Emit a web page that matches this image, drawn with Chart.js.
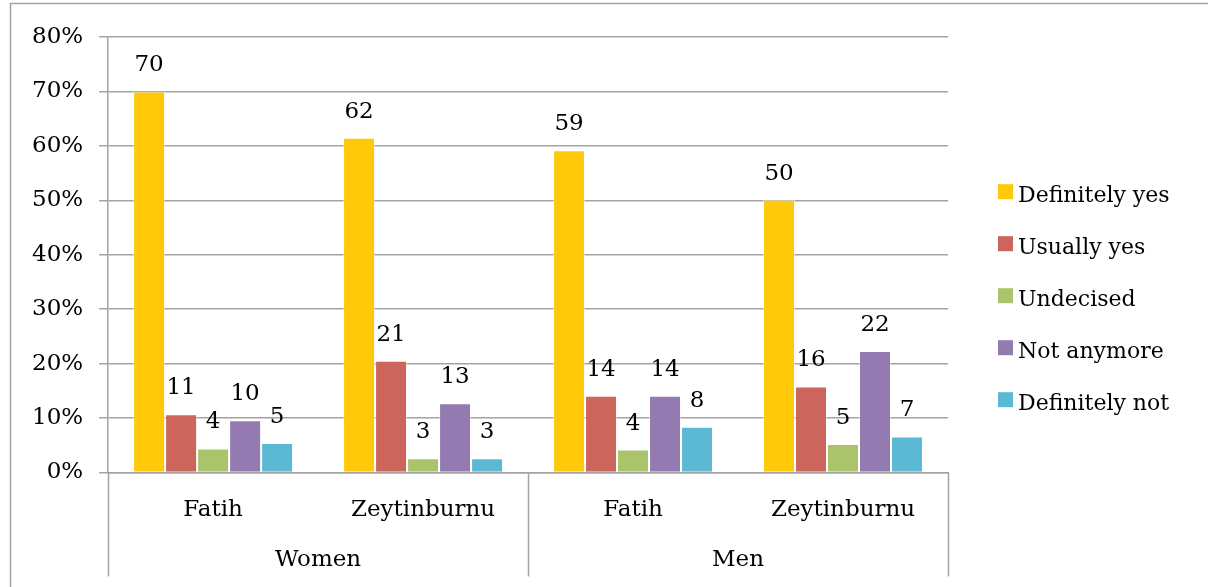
<!DOCTYPE html>
<html>
<head>
<meta charset="utf-8">
<script src="https://cdn.jsdelivr.net/npm/chart.js@4.4.1/dist/chart.umd.min.js"></script>
<style>
  html, body { margin: 0; padding: 0; background: #fff; overflow: hidden; }
  #wrap { width: 1208px; height: 587px; position: relative; }
</style>
</head>
<body>
<div id="wrap"><canvas id="chart0" width="1208" height="587"></canvas></div>
<script>
// categories (two levels)
const places = ["Fatih", "Zeytinburnu", "Fatih", "Zeytinburnu"];
const groups = ["Women", "Men"];

// series, percent
const definitelyYes = [70.0, 61.5, 59.2, 50.1];
const usuallyYes = [10.7, 20.5, 14.1, 15.8];
const undecised = [4.4, 2.6, 4.2, 5.2];
const notAnymore = [9.6, 12.7, 14.1, 22.3];
const definitelyNot = [5.4, 2.6, 8.4, 6.6];

const yTicks = [0, 10, 20, 30, 40, 50, 60, 70, 80];

const font = "DejaVu Serif";
const gridColor = "#a3a3a3";

let ctx = document.getElementById("chart0").getContext("2d");

function makeDataset(label, data, color) {
  return {
    label: label,
    data: data,
    backgroundColor: color,
    borderColor: "rgba(255,255,255,0.5)",
    borderWidth: 1,
    barPercentage: 1.0,
    categoryPercentage: 0.762
  };
}

// value labels above every bar
const valueLabels = {
  id: "valueLabels",
  afterDatasetsDraw(chart) {
    const c = chart.ctx;
    c.save();
    c.font = "23px '" + font + "'";
    c.fillStyle = "#000";
    c.textAlign = "center";
    c.textBaseline = "alphabetic";
    chart.data.datasets.forEach((ds, i) => {
      chart.getDatasetMeta(i).data.forEach((bar, j) => {
        c.fillText(Math.round(ds.data[j]), bar.x, bar.y - 20);
      });
    });
    c.restore();
  }
};

// frame, group row and separators under the x axis
const groupAxis = {
  id: "groupAxis",
  beforeDraw(chart) {
    const c = chart.ctx;
    c.save();
    c.strokeStyle = gridColor;
    c.lineWidth = 1.5;
    c.beginPath();
    c.moveTo(10.5, chart.height);
    c.lineTo(10.5, 3.5);
    c.lineTo(chart.width, 3.5);
    c.stroke();
    c.restore();
  },
  afterDraw(chart) {
    const c = chart.ctx;
    const x = chart.scales.x;
    const area = chart.chartArea;
    const per = places.length / groups.length;
    const step = (area.right - area.left) / places.length;
    c.save();
    c.strokeStyle = gridColor;
    c.lineWidth = 1.5;
    for (let g = 0; g <= groups.length; g++) {
      const px = Math.round(area.left + g * per * step) + 0.5;
      c.beginPath();
      c.moveTo(px, area.bottom);
      c.lineTo(px, area.bottom + 104);
      c.stroke();
    }
    c.font = "23px '" + font + "'";
    c.fillStyle = "#000";
    c.textAlign = "center";
    c.textBaseline = "alphabetic";
    groups.forEach((g, i) => {
      const a = x.getPixelForValue(i * per);
      const b = x.getPixelForValue(i * per + per - 1);
      c.fillText(g, (a + b) / 2, area.bottom + 94);
    });
    c.restore();
  }
};

// legend on the right
const sideLegend = {
  id: "sideLegend",
  afterDraw(chart) {
    const c = chart.ctx;
    const area = chart.chartArea;
    const n = chart.data.datasets.length;
    const gap = 52;
    const mid = (area.top + area.bottom) / 2 + 41;
    c.save();
    c.font = "22px '" + font + "'";
    c.textAlign = "left";
    c.textBaseline = "alphabetic";
    chart.data.datasets.forEach((ds, i) => {
      const cy = mid + (i - (n - 1) / 2) * gap;
      c.fillStyle = ds.backgroundColor;
      c.fillRect(area.right + 50, cy - 7.5, 15, 15);
      c.fillStyle = "#000";
      c.fillText(ds.label, area.right + 70, cy + 10);
    });
    c.restore();
  }
};

let chart = new Chart(ctx, {
  type: "bar",
  data: {
    labels: places,
    datasets: [
      makeDataset("Definitely yes", definitelyYes, "#FFC90A"),
      makeDataset("Usually yes", usuallyYes, "#CC655B"),
      makeDataset("Undecised", undecised, "#AAC46C"),
      makeDataset("Not anymore", notAnymore, "#937BB1"),
      makeDataset("Definitely not", definitelyNot, "#5CB9D3")
    ]
  },
  plugins: [groupAxis, valueLabels, sideLegend],
  options: {
    responsive: false,
    animation: false,
    layout: { padding: { left: 16, right: 260, top: 37, bottom: 39 } },
    plugins: { legend: { display: false }, tooltip: { enabled: false } },
    scales: {
      x: {
        grid: { display: false, drawTicks: false },
        border: { color: gridColor, width: 1.5 },
        ticks: { color: "#000", font: { family: font, size: 23 }, padding: 24, maxRotation: 0 }
      },
      y: {
        min: 0,
        max: 80,
        afterBuildTicks(axis) { axis.ticks = yTicks.map(v => ({ value: v })); },
        grid: { color: gridColor, lineWidth: 1.5, tickLength: 9 },
        border: { color: gridColor, width: 1.5 },
        ticks: { color: "#000", font: { family: font, size: 23 }, padding: 16, callback: v => v + "%" }
      }
    }
  }
});
</script>
</body>
</html>
